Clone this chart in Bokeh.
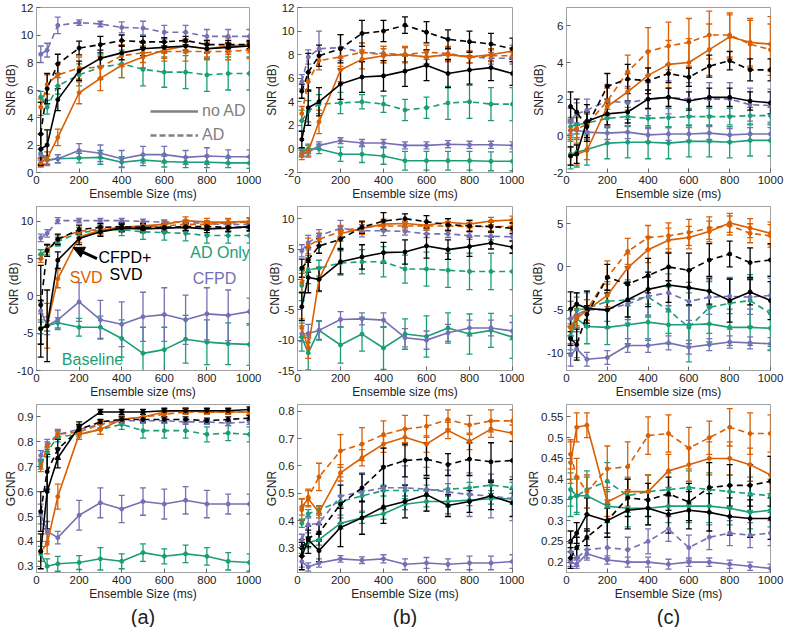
from bokeh.plotting import figure
from bokeh.layouts import gridplot
from bokeh.models import (ColumnDataSource, Whisker, TeeHead, Range1d, FixedTicker,
                          Label, Arrow, NormalHead, Title, Legend, LegendItem)
from bokeh.embed import file_html
from bokeh.resources import INLINE

FONT = "Liberation Sans"
GREEN, PURPLE, ORANGE, BLACK = "#1b9e77", "#7570b3", "#d95f02", "#000000"

X_MS = [20, 50, 100, 200, 300, 400, 500, 600, 700, 800, 900, 1000]
X_TICKS = [0, 200, 400, 600, 800, 1000]

# ---------------- (a) SNR ----------------
A_SNR_BASE = [1.4, 0.9, 1.0, 1.05, 1.1, 0.75, 0.9, 0.8, 0.75, 0.75, 0.7, 0.7]
A_SNR_BASE_E = [0.3, 0.3, 0.3, 0.35, 0.5, 0.4, 0.4, 0.4, 0.4, 0.4, 0.35, 0.4]
A_SNR_AD = [5.5, 4.75, 6.3, 7.1, 7.65, 7.9, 7.5, 7.3, 7.3, 7.1, 7.2, 7.2]
A_SNR_AD_E = [0.4, 0.5, 0.6, 0.8, 0.9, 1.0, 1.2, 1.1, 1.2, 1.2, 1.2, 1.2]
A_SNR_CFPD = [1.3, 0.9, 1.0, 1.6, 1.4, 1.0, 1.3, 1.3, 1.1, 1.2, 1.15, 1.15]
A_SNR_CFPD_E = [0.4, 0.3, 0.3, 0.5, 0.6, 0.6, 0.6, 0.6, 0.5, 0.6, 0.5, 0.5]
A_SNR_CFPD_AD = [8.6, 8.9, 10.7, 10.9, 10.8, 10.55, 10.5, 10.2, 10.2, 9.9, 9.9, 9.9]
A_SNR_CFPD_AD_E = [0.6, 0.5, 0.6, 0.2, 0.2, 0.4, 0.5, 0.5, 0.5, 0.5, 0.5, 0.5]
A_SNR_SVD = [0.7, 1.0, 2.55, 5.8, 6.85, 7.8, 8.4, 8.9, 9.2, 9.0, 9.2, 9.3]
A_SNR_SVD_E = [0.3, 0.5, 0.6, 0.8, 0.9, 0.9, 0.8, 0.6, 0.5, 0.6, 0.6, 0.6]
A_SNR_SVD_AD = [4.75, 6.4, 7.1, 7.6, 7.65, 8.5, 8.7, 8.8, 8.8, 8.8, 8.8, 8.9]
A_SNR_SVD_AD_E = [0.6, 0.7, 0.8, 0.8, 0.8, 0.8, 0.7, 0.7, 0.7, 0.6, 0.6, 0.6]
A_SNR_BOTH = [1.7, 2.0, 5.3, 7.4, 8.3, 8.7, 9.0, 9.1, 9.2, 9.0, 9.1, 9.2]
A_SNR_BOTH_E = [1.1, 1.1, 0.8, 0.7, 0.6, 0.5, 0.5, 0.4, 0.3, 0.3, 0.3, 0.3]
A_SNR_BOTH_AD = [2.8, 6.1, 7.9, 9.05, 9.3, 9.6, 9.5, 9.5, 9.6, 9.3, 9.3, 9.3]
A_SNR_BOTH_AD_E = [2.3, 1.1, 0.7, 0.5, 0.6, 0.4, 0.4, 0.3, 0.3, 0.3, 0.3, 0.3]

# ---------------- (b) SNR ----------------
B_SNR_BASE = [-0.3, 0.0, 0.0, -0.45, -0.45, -0.6, -1.0, -1.0, -1.0, -1.0, -1.05, -1.05]
B_SNR_BASE_E = [0.3, 0.4, 0.4, 0.6, 0.7, 0.7, 0.8, 0.8, 0.8, 0.8, 0.8, 0.8]
B_SNR_AD = [2.4, 3.2, 3.8, 3.9, 4.0, 3.8, 3.3, 3.5, 3.9, 4.0, 3.8, 3.8]
B_SNR_AD_E = [0.9, 0.9, 0.8, 0.9, 0.6, 0.7, 0.9, 0.9, 1.4, 1.4, 1.4, 1.4]
B_SNR_CFPD = [-0.4, -0.3, 0.3, 0.7, 0.5, 0.5, 0.3, 0.3, 0.4, 0.35, 0.35, 0.3]
B_SNR_CFPD_E = [0.3, 0.3, 0.3, 0.25, 0.3, 0.3, 0.3, 0.3, 0.3, 0.3, 0.3, 0.3]
B_SNR_CFPD_AD = [5.7, 7.8, 8.5, 8.6, 8.2, 8.1, 8.0, 7.8, 8.0, 7.8, 7.7, 7.7]
B_SNR_CFPD_AD_E = [0.6, 0.6, 1.5, 1.1, 0.8, 0.6, 0.6, 0.6, 0.6, 0.5, 0.5, 0.5]
B_SNR_SVD = [-0.5, -0.2, 2.3, 6.7, 7.6, 7.9, 8.0, 7.8, 8.0, 7.8, 8.0, 8.3]
B_SNR_SVD_E = [0.4, 0.5, 1.0, 1.0, 0.8, 0.6, 0.6, 0.6, 0.6, 0.5, 0.5, 0.5]
B_SNR_SVD_AD = [3.0, 5.7, 7.5, 7.8, 8.2, 8.0, 8.0, 8.2, 8.1, 7.8, 7.9, 7.9]
B_SNR_SVD_AD_E = [0.6, 0.8, 0.8, 0.8, 0.8, 0.7, 0.7, 0.6, 0.6, 0.5, 0.5, 0.5]
B_SNR_BOTH = [0.8, 3.5, 4.0, 5.5, 6.1, 6.2, 6.6, 7.1, 6.4, 6.7, 6.9, 6.4]
B_SNR_BOTH_E = [0.7, 1.5, 1.2, 1.3, 1.3, 1.3, 1.3, 1.3, 1.2, 1.2, 1.1, 1.0]
B_SNR_BOTH_AD = [4.9, 6.5, 7.9, 8.5, 9.8, 10.0, 10.5, 9.9, 9.3, 9.1, 8.9, 8.5]
B_SNR_BOTH_AD_E = [0.6, 1.6, 0.9, 1.2, 1.1, 0.9, 0.7, 0.9, 0.8, 0.9, 0.9, 0.9]

# ---------------- (c) SNR ----------------
C_SNR_BASE = [-1.0, -0.9, -0.75, -0.4, -0.35, -0.35, -0.4, -0.3, -0.3, -0.35, -0.25, -0.25]
C_SNR_BASE_E = [0.8, 0.8, 0.85, 0.85, 0.85, 0.9, 0.85, 0.85, 0.85, 0.85, 0.85, 0.85]
C_SNR_AD = [0.5, 0.6, 0.7, 0.95, 1.05, 0.95, 1.0, 1.05, 1.05, 1.05, 1.1, 1.1]
C_SNR_AD_E = [0.5, 0.5, 0.5, 0.5, 0.5, 0.5, 0.5, 0.45, 0.45, 0.45, 0.45, 0.45]
C_SNR_CFPD = [0.3, 0.3, 0.2, 0.15, 0.2, 0.05, 0.1, 0.1, 0.15, 0.05, 0.1, 0.1]
C_SNR_CFPD_E = [0.4, 0.4, 0.4, 0.35, 0.35, 0.35, 0.35, 0.35, 0.35, 0.35, 0.35, 0.35]
C_SNR_CFPD_AD = [0.8, 1.2, 1.4, 1.9, 1.8, 2.0, 2.1, 2.0, 2.0, 2.0, 1.7, 1.65]
C_SNR_CFPD_AD_E = [0.7, 0.6, 0.6, 0.8, 0.9, 0.9, 0.9, 0.9, 0.9, 0.9, 0.9, 0.9]
C_SNR_SVD = [-1.1, -1.0, -0.8, 1.6, 2.4, 3.3, 3.9, 4.0, 4.7, 5.4, 5.1, 5.0]
C_SNR_SVD_E = [0.5, 0.6, 0.5, 1.0, 1.0, 1.3, 1.3, 1.3, 1.4, 1.2, 1.3, 1.5]
C_SNR_SVD_AD = [0.3, 0.4, 0.6, 1.9, 3.5, 4.6, 4.9, 5.1, 5.5, 5.5, 5.0, 4.7]
C_SNR_SVD_AD_E = [0.6, 0.6, 0.6, 0.9, 0.9, 1.3, 1.3, 1.3, 1.3, 1.2, 1.3, 1.4]
C_SNR_BOTH = [-1.1, -1.0, 0.8, 1.2, 1.3, 2.0, 2.1, 1.9, 2.1, 2.1, 1.9, 1.8]
C_SNR_BOTH_E = [0.5, 0.5, 0.9, 0.6, 0.6, 0.5, 0.5, 0.5, 0.5, 0.5, 0.5, 0.6]
C_SNR_BOTH_AD = [1.6, 1.3, 0.5, 2.7, 3.1, 3.0, 3.4, 3.2, 3.8, 4.1, 3.6, 3.6]
C_SNR_BOTH_AD_E = [0.8, 0.7, 0.8, 0.7, 0.8, 0.7, 0.5, 0.5, 0.6, 0.5, 0.6, 0.6]

# ---------------- (a) CNR ----------------
A_CNR_BASE = [-4.3, -4.0, -3.6, -4.2, -4.2, -5.7, -7.7, -7.2, -5.8, -6.2, -6.4, -6.5]
A_CNR_BASE_E = [0.8, 0.7, 0.7, 1.2, 1.5, 2.5, 3.5, 3.0, 3.2, 3.0, 2.8, 2.8]
A_CNR_AD = [5.6, 6.2, 7.3, 8.5, 8.8, 8.9, 8.6, 8.5, 8.4, 8.1, 8.1, 8.1]
A_CNR_AD_E = [0.6, 0.7, 0.6, 0.7, 0.7, 0.8, 1.0, 1.0, 1.0, 1.0, 1.0, 1.0]
A_CNR_CFPD = [-2.0, -4.0, -3.2, -0.8, -3.2, -3.8, -2.8, -2.5, -3.2, -2.4, -2.6, -2.1]
A_CNR_CFPD_E = [1.2, 1.2, 1.3, 2.6, 2.6, 3.0, 3.3, 3.6, 3.3, 3.5, 3.4, 1.8]
A_CNR_CFPD_AD = [7.8, 8.4, 10.1, 10.1, 10.1, 10.1, 10.0, 9.9, 9.9, 9.7, 9.6, 9.6]
A_CNR_CFPD_AD_E = [0.5, 0.5, 0.4, 0.3, 0.3, 0.3, 0.3, 0.3, 0.3, 0.3, 0.3, 0.3]
A_CNR_SVD = [-4.4, -4.0, 2.3, 7.9, 8.8, 9.2, 9.4, 9.6, 10.1, 9.9, 9.9, 10.0]
A_CNR_SVD_E = [2.0, 3.0, 1.2, 0.7, 0.5, 0.5, 0.5, 0.5, 0.5, 0.5, 0.5, 0.5]
A_CNR_SVD_AD = [5.0, 6.3, 7.6, 8.7, 8.9, 9.2, 9.3, 9.4, 9.6, 9.6, 9.8, 9.9]
A_CNR_SVD_AD_E = [0.5, 0.5, 0.6, 0.5, 0.5, 0.5, 0.5, 0.5, 0.5, 0.5, 0.5, 0.5]
A_CNR_BOTH = [-4.4, -4.0, 4.8, 7.7, 8.6, 9.1, 9.0, 9.1, 9.2, 9.0, 9.1, 9.3]
A_CNR_BOTH_E = [3.8, 4.8, 1.1, 0.8, 0.6, 0.5, 0.5, 0.5, 0.5, 0.5, 0.5, 0.5]
A_CNR_BOTH_AD = [-1.2, 6.1, 7.6, 8.9, 9.2, 9.3, 9.2, 9.2, 9.3, 9.3, 9.2, 9.2]
A_CNR_BOTH_AD_E = [5.3, 0.8, 0.7, 0.6, 0.5, 0.5, 0.5, 0.5, 0.5, 0.5, 0.5, 0.5]

# ---------------- (b) CNR ----------------
B_CNR_BASE = [-9.5, -12.1, -8.4, -10.8, -9.0, -11.3, -9.0, -9.4, -8.0, -9.0, -8.4, -9.5]
B_CNR_BASE_E = [2.3, 2.8, 1.6, 3.0, 2.8, 3.5, 2.5, 3.4, 2.5, 3.3, 2.8, 3.5]
B_CNR_AD = [-1.0, 1.6, 1.85, 2.7, 2.9, 2.9, 1.7, 1.7, 1.5, 1.3, 1.3, 1.3]
B_CNR_AD_E = [2.5, 2.3, 1.3, 2.0, 2.0, 2.5, 2.3, 2.8, 2.8, 3.0, 3.0, 3.0]
B_CNR_CFPD = [-8.95, -8.9, -8.4, -6.6, -6.5, -6.7, -9.6, -10.0, -8.8, -8.0, -8.0, -8.5]
B_CNR_CFPD_E = [1.3, 1.5, 1.5, 1.3, 1.0, 1.2, 1.5, 1.5, 1.4, 1.3, 1.3, 1.4]
B_CNR_CFPD_AD = [4.7, 6.05, 7.2, 8.4, 8.0, 8.0, 7.9, 7.5, 7.5, 7.2, 7.1, 7.0]
B_CNR_CFPD_AD_E = [1.0, 1.2, 1.0, 1.3, 1.0, 0.8, 0.6, 0.6, 0.6, 0.6, 0.6, 0.6]
B_CNR_SVD = [-8.0, -11.3, 0.0, 7.5, 8.4, 9.1, 9.2, 8.9, 9.4, 9.1, 9.6, 9.8]
B_CNR_SVD_E = [1.5, 1.7, 2.0, 1.2, 1.0, 0.8, 0.6, 0.6, 0.6, 0.6, 0.6, 0.6]
B_CNR_SVD_AD = [-0.5, 5.5, 6.6, 7.9, 8.6, 8.8, 8.8, 8.8, 8.8, 8.7, 8.7, 8.7]
B_CNR_SVD_AD_E = [1.5, 1.3, 1.0, 1.0, 0.8, 0.8, 0.7, 0.7, 0.7, 0.7, 0.7, 0.7]
B_CNR_BOTH = [-4.5, 0.3, 0.0, 2.9, 3.7, 4.4, 4.5, 5.5, 4.9, 5.4, 6.0, 5.3]
B_CNR_BOTH_E = [2.3, 2.5, 1.9, 2.0, 2.0, 1.7, 2.0, 2.0, 1.6, 1.6, 1.0, 1.0]
B_CNR_BOTH_AD = [1.85, 3.2, 5.5, 6.6, 8.6, 9.6, 10.0, 9.5, 9.0, 8.8, 8.7, 8.4]
B_CNR_BOTH_AD_E = [1.5, 2.0, 1.2, 1.5, 1.0, 1.4, 0.8, 1.0, 1.0, 0.9, 0.9, 0.9]

# ---------------- (c) CNR ----------------
C_CNR_BASE = [-8.1, -6.0, -6.9, -7.0, -6.7, -6.4, -6.7, -6.7, -6.6, -7.0, -7.0, -7.1]
C_CNR_BASE_E = [1.5, 1.5, 2.0, 2.0, 2.2, 2.1, 2.2, 2.2, 2.1, 2.1, 2.1, 2.1]
C_CNR_AD = [-8.0, -5.0, -4.8, -4.0, -3.8, -3.5, -5.0, -7.0, -4.7, -4.2, -3.9, -5.4]
C_CNR_AD_E = [2.0, 2.0, 2.0, 2.3, 2.3, 2.3, 2.7, 4.0, 3.0, 3.0, 3.0, 4.3]
C_CNR_CFPD = [-10.2, -9.5, -10.7, -10.5, -9.1, -9.1, -8.8, -9.3, -9.0, -8.7, -8.8, -8.9]
C_CNR_CFPD_E = [1.3, 1.0, 0.8, 0.8, 0.8, 0.8, 0.8, 0.8, 0.7, 0.7, 0.7, 0.7]
C_CNR_CFPD_AD = [-6.0, -5.5, -5.0, -4.9, -4.3, -3.4, -3.0, -4.0, -3.5, -3.4, -3.5, -3.3]
C_CNR_CFPD_AD_E = [2.0, 2.0, 2.0, 2.2, 2.2, 2.2, 2.2, 2.2, 2.0, 2.0, 2.0, 2.0]
C_CNR_SVD = [-7.0, -6.0, -5.0, -3.3, -0.1, 2.0, 3.1, 3.4, 4.1, 5.1, 4.5, 3.9]
C_CNR_SVD_E = [1.0, 1.0, 1.2, 1.3, 1.6, 1.5, 1.4, 1.3, 1.2, 1.1, 1.1, 1.3]
C_CNR_SVD_AD = [-7.0, -5.8, -5.0, -1.2, 1.8, 3.4, 3.6, 4.0, 4.5, 4.8, 3.9, 3.6]
C_CNR_SVD_AD_E = [1.0, 1.0, 1.2, 1.9, 1.5, 1.4, 1.5, 1.5, 1.3, 1.1, 1.1, 1.3]
C_CNR_BOTH = [-4.9, -4.3, -4.8, -5.0, -3.8, -2.6, -2.1, -2.4, -2.8, -3.9, -2.9, -3.9]
C_CNR_BOTH_E = [2.0, 1.3, 2.0, 2.0, 2.0, 2.0, 2.0, 2.0, 1.5, 2.5, 1.5, 2.2]
C_CNR_BOTH_AD = [-8.3, -9.0, -5.5, -1.2, -2.0, -1.0, 0.0, -0.4, 0.8, 1.5, 0.5, 0.8]
C_CNR_BOTH_AD_E = [0.8, 1.8, 1.0, 1.5, 2.0, 2.0, 1.6, 2.0, 1.9, 1.5, 1.7, 1.9]

# ---------------- (a) GCNR ----------------
A_GCNR_BASE = [0.35, 0.30, 0.31, 0.315, 0.33, 0.32, 0.355, 0.34, 0.35, 0.34, 0.32, 0.315]
A_GCNR_BASE_E = [0.03, 0.03, 0.03, 0.028, 0.045, 0.03, 0.035, 0.03, 0.035, 0.035, 0.035, 0.035]
A_GCNR_AD = [0.71, 0.76, 0.82, 0.83, 0.85, 0.87, 0.845, 0.845, 0.845, 0.83, 0.835, 0.83]
A_GCNR_AD_E = [0.02, 0.02, 0.02, 0.02, 0.02, 0.02, 0.03, 0.03, 0.03, 0.03, 0.03, 0.03]
A_GCNR_CFPD = [0.51, 0.44, 0.415, 0.505, 0.555, 0.53, 0.56, 0.55, 0.565, 0.55, 0.55, 0.55]
A_GCNR_CFPD_E = [0.04, 0.04, 0.025, 0.06, 0.06, 0.055, 0.055, 0.06, 0.055, 0.055, 0.04, 0.04]
A_GCNR_CFPD_AD = [0.745, 0.79, 0.83, 0.85, 0.87, 0.885, 0.885, 0.885, 0.88, 0.88, 0.875, 0.88]
A_GCNR_CFPD_AD_E = [0.02, 0.02, 0.015, 0.015, 0.015, 0.01, 0.01, 0.01, 0.01, 0.01, 0.01, 0.01]
A_GCNR_SVD = [0.36, 0.39, 0.58, 0.83, 0.85, 0.89, 0.90, 0.92, 0.925, 0.92, 0.92, 0.92]
A_GCNR_SVD_E = [0.04, 0.04, 0.05, 0.02, 0.02, 0.015, 0.01, 0.01, 0.01, 0.01, 0.01, 0.01]
A_GCNR_SVD_AD = [0.70, 0.78, 0.83, 0.84, 0.87, 0.89, 0.90, 0.91, 0.92, 0.92, 0.92, 0.92]
A_GCNR_SVD_AD_E = [0.02, 0.02, 0.02, 0.02, 0.015, 0.01, 0.01, 0.01, 0.01, 0.01, 0.01, 0.01]
A_GCNR_BOTH = [0.36, 0.60, 0.735, 0.86, 0.92, 0.92, 0.92, 0.925, 0.925, 0.925, 0.925, 0.93]
A_GCNR_BOTH_E = [0.07, 0.15, 0.04, 0.02, 0.01, 0.01, 0.01, 0.01, 0.01, 0.01, 0.01, 0.01]
A_GCNR_BOTH_AD = [0.52, 0.68, 0.77, 0.85, 0.88, 0.89, 0.89, 0.89, 0.89, 0.885, 0.89, 0.895]
A_GCNR_BOTH_AD_E = [0.08, 0.07, 0.04, 0.02, 0.01, 0.01, 0.01, 0.01, 0.01, 0.01, 0.01, 0.01]

# ---------------- (b) GCNR ----------------
B_GCNR_BASE = [0.30, 0.32, 0.33, 0.39, 0.41, 0.425, 0.46, 0.47, 0.47, 0.475, 0.48, 0.48]
B_GCNR_BASE_E = [0.02, 0.02, 0.02, 0.02, 0.02, 0.02, 0.02, 0.02, 0.02, 0.02, 0.02, 0.02]
B_GCNR_AD = [0.39, 0.425, 0.44, 0.47, 0.49, 0.51, 0.51, 0.51, 0.515, 0.52, 0.53, 0.52]
B_GCNR_AD_E = [0.015, 0.015, 0.015, 0.02, 0.02, 0.02, 0.02, 0.02, 0.02, 0.02, 0.02, 0.02]
B_GCNR_CFPD = [0.25, 0.23, 0.245, 0.26, 0.255, 0.26, 0.24, 0.245, 0.24, 0.245, 0.245, 0.25]
B_GCNR_CFPD_E = [0.02, 0.015, 0.015, 0.012, 0.012, 0.015, 0.02, 0.02, 0.02, 0.025, 0.025, 0.025]
B_GCNR_CFPD_AD = [0.33, 0.385, 0.39, 0.49, 0.505, 0.52, 0.52, 0.515, 0.505, 0.495, 0.49, 0.48]
B_GCNR_CFPD_AD_E = [0.02, 0.03, 0.03, 0.07, 0.07, 0.08, 0.08, 0.08, 0.08, 0.08, 0.08, 0.08]
B_GCNR_SVD = [0.45, 0.48, 0.43, 0.575, 0.63, 0.68, 0.705, 0.68, 0.73, 0.69, 0.735, 0.72]
B_GCNR_SVD_E = [0.03, 0.03, 0.02, 0.03, 0.03, 0.03, 0.03, 0.03, 0.03, 0.03, 0.03, 0.03]
B_GCNR_SVD_AD = [0.44, 0.485, 0.56, 0.655, 0.68, 0.715, 0.735, 0.745, 0.77, 0.75, 0.765, 0.765]
B_GCNR_SVD_AD_E = [0.04, 0.03, 0.05, 0.06, 0.06, 0.05, 0.05, 0.04, 0.035, 0.035, 0.04, 0.04]
B_GCNR_BOTH = [0.27, 0.33, 0.29, 0.375, 0.41, 0.45, 0.47, 0.495, 0.455, 0.47, 0.49, 0.465]
B_GCNR_BOTH_E = [0.05, 0.05, 0.04, 0.07, 0.06, 0.06, 0.06, 0.06, 0.04, 0.04, 0.05, 0.05]
B_GCNR_BOTH_AD = [0.30, 0.335, 0.355, 0.46, 0.52, 0.595, 0.62, 0.625, 0.605, 0.625, 0.615, 0.62]
B_GCNR_BOTH_AD_E = [0.03, 0.03, 0.03, 0.07, 0.05, 0.07, 0.06, 0.06, 0.04, 0.06, 0.07, 0.07]

# ---------------- (c) GCNR ----------------
C_GCNR_BASE = [0.355, 0.36, 0.36, 0.335, 0.33, 0.33, 0.335, 0.335, 0.335, 0.33, 0.32, 0.325]
C_GCNR_BASE_E = [0.045, 0.045, 0.045, 0.04, 0.045, 0.04, 0.04, 0.04, 0.04, 0.04, 0.04, 0.04]
C_GCNR_AD = [0.375, 0.36, 0.375, 0.395, 0.36, 0.37, 0.375, 0.38, 0.375, 0.37, 0.365, 0.36]
C_GCNR_AD_E = [0.04, 0.04, 0.045, 0.045, 0.04, 0.04, 0.04, 0.04, 0.04, 0.04, 0.04, 0.04]
C_GCNR_CFPD = [0.20, 0.195, 0.22, 0.205, 0.20, 0.20, 0.195, 0.20, 0.20, 0.195, 0.19, 0.185]
C_GCNR_CFPD_E = [0.01, 0.01, 0.01, 0.01, 0.012, 0.012, 0.012, 0.01, 0.01, 0.01, 0.01, 0.01]
C_GCNR_CFPD_AD = [0.225, 0.21, 0.23, 0.235, 0.23, 0.25, 0.28, 0.235, 0.26, 0.27, 0.265, 0.27]
C_GCNR_CFPD_AD_E = [0.02, 0.02, 0.025, 0.025, 0.03, 0.03, 0.03, 0.03, 0.03, 0.03, 0.03, 0.03]
C_GCNR_SVD = [0.44, 0.525, 0.53, 0.345, 0.37, 0.37, 0.42, 0.435, 0.45, 0.45, 0.435, 0.41]
C_GCNR_SVD_E = [0.05, 0.035, 0.03, 0.035, 0.035, 0.04, 0.04, 0.04, 0.04, 0.04, 0.04, 0.045]
C_GCNR_SVD_AD = [0.46, 0.405, 0.37, 0.425, 0.43, 0.505, 0.51, 0.475, 0.50, 0.525, 0.51, 0.51]
C_GCNR_SVD_AD_E = [0.035, 0.045, 0.04, 0.055, 0.06, 0.045, 0.045, 0.05, 0.04, 0.045, 0.05, 0.045]
C_GCNR_BOTH = [0.25, 0.27, 0.315, 0.30, 0.325, 0.33, 0.315, 0.325, 0.32, 0.31, 0.305, 0.305]
C_GCNR_BOTH_E = [0.025, 0.025, 0.04, 0.04, 0.045, 0.04, 0.045, 0.045, 0.045, 0.045, 0.045, 0.05]
C_GCNR_BOTH_AD = [0.21, 0.235, 0.26, 0.30, 0.355, 0.35, 0.365, 0.345, 0.38, 0.385, 0.385, 0.395]
C_GCNR_BOTH_AD_E = [0.025, 0.025, 0.02, 0.03, 0.045, 0.04, 0.04, 0.045, 0.06, 0.05, 0.05, 0.06]

# series styles: (colour, dash)
STYLES = [(GREEN, "solid"), (GREEN, "6 4"), (PURPLE, "solid"), (PURPLE, "6 4"),
          (ORANGE, "solid"), (ORANGE, "6 4"), (BLACK, "solid"), (BLACK, "6 4")]

PANELS = [
    # row 1
    dict(series=[(A_SNR_BASE, A_SNR_BASE_E), (A_SNR_AD, A_SNR_AD_E), (A_SNR_CFPD, A_SNR_CFPD_E),
                 (A_SNR_CFPD_AD, A_SNR_CFPD_AD_E), (A_SNR_SVD, A_SNR_SVD_E), (A_SNR_SVD_AD, A_SNR_SVD_AD_E),
                 (A_SNR_BOTH, A_SNR_BOTH_E), (A_SNR_BOTH_AD, A_SNR_BOTH_AD_E)],
         yr=(0, 12), ticks=[0, 2, 4, 6, 8, 10, 12], ylabel="SNR (dB)", xlabel="Ensemble Size (ms)", ys=0),
    dict(series=[(B_SNR_BASE, B_SNR_BASE_E), (B_SNR_AD, B_SNR_AD_E), (B_SNR_CFPD, B_SNR_CFPD_E),
                 (B_SNR_CFPD_AD, B_SNR_CFPD_AD_E), (B_SNR_SVD, B_SNR_SVD_E), (B_SNR_SVD_AD, B_SNR_SVD_AD_E),
                 (B_SNR_BOTH, B_SNR_BOTH_E), (B_SNR_BOTH_AD, B_SNR_BOTH_AD_E)],
         yr=(-2, 12), ticks=[-2, 0, 2, 4, 6, 8, 10, 12], ylabel="SNR (dB)", xlabel="Ensemble size (ms)", ys=0),
    dict(series=[(C_SNR_BASE, C_SNR_BASE_E), (C_SNR_AD, C_SNR_AD_E), (C_SNR_CFPD, C_SNR_CFPD_E),
                 (C_SNR_CFPD_AD, C_SNR_CFPD_AD_E), (C_SNR_SVD, C_SNR_SVD_E), (C_SNR_SVD_AD, C_SNR_SVD_AD_E),
                 (C_SNR_BOTH, C_SNR_BOTH_E), (C_SNR_BOTH_AD, C_SNR_BOTH_AD_E)],
         yr=(-2, 7), ticks=[-2, 0, 2, 4, 6], ylabel="SNR (dB)", xlabel="Ensemble size (ms)", ys=4),
    # row 2
    dict(series=[(A_CNR_BASE, A_CNR_BASE_E), (A_CNR_AD, A_CNR_AD_E), (A_CNR_CFPD, A_CNR_CFPD_E),
                 (A_CNR_CFPD_AD, A_CNR_CFPD_AD_E), (A_CNR_SVD, A_CNR_SVD_E), (A_CNR_SVD_AD, A_CNR_SVD_AD_E),
                 (A_CNR_BOTH, A_CNR_BOTH_E), (A_CNR_BOTH_AD, A_CNR_BOTH_AD_E)],
         yr=(-10, 12), ticks=[-10, -5, 0, 5, 10], ylabel="CNR (dB)", xlabel="Ensemble size (ms)", ys=-7),
    dict(series=[(B_CNR_BASE, B_CNR_BASE_E), (B_CNR_AD, B_CNR_AD_E), (B_CNR_CFPD, B_CNR_CFPD_E),
                 (B_CNR_CFPD_AD, B_CNR_CFPD_AD_E), (B_CNR_SVD, B_CNR_SVD_E), (B_CNR_SVD_AD, B_CNR_SVD_AD_E),
                 (B_CNR_BOTH, B_CNR_BOTH_E), (B_CNR_BOTH_AD, B_CNR_BOTH_AD_E)],
         yr=(-15, 12), ticks=[-15, -10, -5, 0, 5, 10], ylabel="CNR (dB)", xlabel="Ensemble size (ms)", ys=-7),
    dict(series=[(C_CNR_BASE, C_CNR_BASE_E), (C_CNR_AD, C_CNR_AD_E), (C_CNR_CFPD, C_CNR_CFPD_E),
                 (C_CNR_CFPD_AD, C_CNR_CFPD_AD_E), (C_CNR_SVD, C_CNR_SVD_E), (C_CNR_SVD_AD, C_CNR_SVD_AD_E),
                 (C_CNR_BOTH, C_CNR_BOTH_E), (C_CNR_BOTH_AD, C_CNR_BOTH_AD_E)],
         yr=(-12, 7), ticks=[-10, -5, 0, 5], ylabel="CNR (dB)", xlabel="Ensemble size (ms)", ys=-1),
    # row 3
    dict(series=[(A_GCNR_BASE, A_GCNR_BASE_E), (A_GCNR_AD, A_GCNR_AD_E), (A_GCNR_CFPD, A_GCNR_CFPD_E),
                 (A_GCNR_CFPD_AD, A_GCNR_CFPD_AD_E), (A_GCNR_SVD, A_GCNR_SVD_E), (A_GCNR_SVD_AD, A_GCNR_SVD_AD_E),
                 (A_GCNR_BOTH, A_GCNR_BOTH_E), (A_GCNR_BOTH_AD, A_GCNR_BOTH_AD_E)],
         yr=(0.275, 0.95), ticks=[0.3, 0.4, 0.5, 0.6, 0.7, 0.8, 0.9], ylabel="GCNR",
         xlabel="Ensemble Size (ms)", ys=-3, tag="(a)"),
    dict(series=[(B_GCNR_BASE, B_GCNR_BASE_E), (B_GCNR_AD, B_GCNR_AD_E), (B_GCNR_CFPD, B_GCNR_CFPD_E),
                 (B_GCNR_CFPD_AD, B_GCNR_CFPD_AD_E), (B_GCNR_SVD, B_GCNR_SVD_E), (B_GCNR_SVD_AD, B_GCNR_SVD_AD_E),
                 (B_GCNR_BOTH, B_GCNR_BOTH_E), (B_GCNR_BOTH_AD, B_GCNR_BOTH_AD_E)],
         yr=(0.21, 0.825), ticks=[0.3, 0.4, 0.5, 0.6, 0.7, 0.8], ylabel="GCNR",
         xlabel="Ensemble Size (ms)", ys=-3, tag="(b)"),
    dict(series=[(C_GCNR_BASE, C_GCNR_BASE_E), (C_GCNR_AD, C_GCNR_AD_E), (C_GCNR_CFPD, C_GCNR_CFPD_E),
                 (C_GCNR_CFPD_AD, C_GCNR_CFPD_AD_E), (C_GCNR_SVD, C_GCNR_SVD_E), (C_GCNR_SVD_AD, C_GCNR_SVD_AD_E),
                 (C_GCNR_BOTH, C_GCNR_BOTH_E), (C_GCNR_BOTH_AD, C_GCNR_BOTH_AD_E)],
         yr=(0.175, 0.58), ticks=[0.2, 0.25, 0.3, 0.35, 0.4, 0.45, 0.5, 0.55], ylabel="GCNR",
         xlabel="Ensemble Size (ms)", ys=-3, tag="(c)"),
]

COL_W = [261, 263, 260]
COL_L = [31, 31, 37]
COL_R = [12, 12, 14]
ROW_H = [203, 198, 226]
ROW_T = [7, 3, 3]


def make_panel(spec, w, h, left, right, top):
    p = figure(width=w, height=h, x_range=Range1d(0, 1000), y_range=Range1d(*spec["yr"]),
               output_backend="svg", toolbar_location=None,
               min_border_left=left, min_border_right=right, min_border_top=top, min_border_bottom=0)
    p.outline_line_color = "#a0a0a0"
    p.grid.visible = False
    p.background_fill_color = "white"
    p.xaxis.ticker = FixedTicker(ticks=X_TICKS)
    p.yaxis.ticker = FixedTicker(ticks=spec["ticks"])
    p.yaxis.major_label_overrides = {t: f"{t:g}" for t in spec["ticks"]}
    for ax in (p.xaxis[0], p.yaxis[0]):
        ax.major_tick_in = 4
        ax.major_tick_out = 0
        ax.minor_tick_line_color = None
        ax.axis_line_color = "#a0a0a0"
        ax.major_tick_line_color = "#666666"
        ax.major_label_text_font = FONT
        ax.major_label_text_font_size = "11.5px"
        ax.major_label_text_color = "#222222"
        ax.axis_label_text_font = FONT
        ax.axis_label_text_font_size = "12px"
        ax.axis_label_text_font_style = "normal"
        ax.axis_label_text_color = "#222222"
    p.xaxis.axis_label = spec["xlabel"]
    p.yaxis.axis_label = spec["ylabel"]
    p.xaxis.major_label_standoff = 3
    p.xaxis.axis_label_standoff = 0
    p.yaxis.major_label_standoff = 3
    p.yaxis.axis_label_standoff = spec["ys"]

    for (vals, errs), (col, dash) in zip(spec["series"], STYLES):
        src = ColumnDataSource(dict(x=X_MS, y=vals,
                                    upper=[v + e for v, e in zip(vals, errs)],
                                    lower=[v - e for v, e in zip(vals, errs)]))
        p.add_layout(Whisker(source=src, base="x", upper="upper", lower="lower",
                             line_color=col, line_width=1.3,
                             upper_head=TeeHead(size=6, line_color=col, line_width=1.3),
                             lower_head=TeeHead(size=6, line_color=col, line_width=1.3)))
        p.line("x", "y", source=src, line_color=col, line_width=1.6, line_dash=dash)
        p.scatter("x", "y", source=src, size=4, color=col)

    if "tag" in spec:
        p.add_layout(Title(text=spec["tag"], align="center", text_font=FONT, text_font_size="20px",
                           text_font_style="normal", text_color="#222222", standoff=0), "below")
    return p


figs = []
for i, spec in enumerate(PANELS):
    r, c = divmod(i, 3)
    figs.append(make_panel(spec, COL_W[c], ROW_H[r], COL_L[c], COL_R[c], ROW_T[r]))

# legend for line style (panel a, SNR): renderers carry no visible data
pa = figs[0]
leg_src = ColumnDataSource(dict(x=[float("nan")], y=[float("nan")]))
r_solid = pa.line("x", "y", source=leg_src, line_color="#808080", line_width=2.5)
r_dash = pa.line("x", "y", source=leg_src, line_color="#808080", line_width=2.5, line_dash="6 3")
pa.add_layout(Legend(items=[LegendItem(label="no AD", renderers=[r_solid]),
                            LegendItem(label="AD", renderers=[r_dash])],
                     location=(114, 26), background_fill_alpha=0, border_line_color=None,
                     label_text_font=FONT, label_text_font_size="16px", label_text_color="#808080",
                     glyph_width=48, glyph_height=22, label_height=22, spacing=2, padding=0,
                     margin=0, label_standoff=4))

# method annotations (panel a, CNR)
pc = figs[3]
NOTES = [("AD Only", 722, 5.8, GREEN), ("CFPD", 733, 2.4, PURPLE), ("SVD", 156, 2.5, ORANGE),
         ("CFPD+", 291, 5.2, BLACK), ("SVD", 343, 2.85, BLACK), ("Baseline", 119, -8.5, GREEN)]
for txt, xx, yy, col in NOTES:
    pc.add_layout(Label(x=xx, y=yy, text=txt, text_color=col, text_font=FONT, text_font_size="16px",
                        text_baseline="middle", text_align="left"))
pc.add_layout(Arrow(end=NormalHead(size=11, fill_color=BLACK, line_color=BLACK),
                    x_start=284, y_start=5.0, x_end=172, y_end=6.5, line_width=3, line_color=BLACK))

grid = gridplot([figs[0:3], figs[3:6], figs[6:9]], toolbar_location=None)
open("out.html", "w").write(file_html(grid, INLINE))
